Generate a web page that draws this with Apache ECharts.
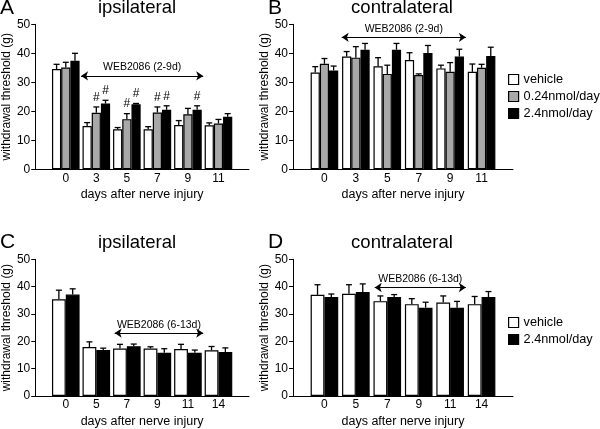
<!DOCTYPE html>
<html><head><meta charset="utf-8">
<script src="https://cdn.jsdelivr.net/npm/echarts@6/dist/echarts.min.js"></script>
<style>html,body{margin:0;padding:0;background:#fff}#c{width:600px;height:429px}</style>
</head><body><div id="c"></div>
<script>
// ---- data ----
const daysAB = ['0', '3', '5', '7', '9', '11'];
const daysCD = ['0', '5', '7', '9', '11', '14'];
const seriesNames = ['vehicle', '0.24nmol/day', '2.4nmol/day'];

// Panel A (ipsilateral, WEB2086 2-9d)
const vehA = [34.6, 14.9, 13.8, 13.8, 15.3, 15.2];
const vehAErr = [1.6, 1.2, 0.6, 0.9, 1.5, 0.8];
const lowA = [35.1, 19.5, 17.3, 19.6, 19.0, 15.8];
const lowAErr = [1.8, 2.0, 1.9, 1.9, 2.0, 1.4];
const lowAHash = [0, 1, 1, 1, 0, 0];
const highA = [37.4, 22.7, 22.4, 20.5, 20.5, 18.1];
const highAErr = [2.6, 1.1, 0.3, 1.4, 1.4, 1.1];
const highAHash = [0, 1, 1, 1, 1, 0];

// Panel B (contralateral, WEB2086 2-9d)
const vehB = [33.4, 38.9, 35.5, 37.7, 34.8, 33.6];
const vehBErr = [2.0, 1.7, 3.0, 2.5, 1.1, 2.7];
const lowB = [36.4, 38.5, 32.9, 32.5, 33.6, 35.0];
const lowBErr = [1.8, 3.8, 3.0, 0.4, 3.2, 1.2];
const highB = [34.1, 41.2, 41.2, 40.1, 38.9, 39.1];
const highBErr = [1.5, 2.2, 2.2, 2.6, 2.5, 3.0];

// Panel C (ipsilateral, WEB2086 6-13d)
const vehC = [35.4, 17.9, 17.4, 17.4, 17.2, 16.7];
const vehCErr = [3.3, 1.9, 1.5, 0.6, 1.7, 1.4];
const highC = [37.1, 16.8, 18.2, 15.8, 15.8, 16.1];
const highCErr = [2.1, 0.7, 0.8, 1.5, 1.0, 1.5];

// Panel D (contralateral, WEB2086 6-13d)
const vehD = [37.0, 37.4, 34.7, 33.6, 34.2, 33.6];
const vehDErr = [3.7, 3.3, 1.9, 2.0, 2.4, 2.8];
const highD = [36.2, 38.0, 36.2, 32.3, 32.3, 36.2];
const highDErr = [1.1, 3.0, 0.9, 2.0, 2.3, 2.0];

// treatment arrows: [start index, end index, y value]
const arrowA = [0.5, 4.5, 32.2];
const arrowB = [0.55, 4.5, 45.5];
const arrowC = [1.6, 4.5, 23.0];
const arrowD = [1.6, 4.5, 39.7];
const arrowTextAB = 'WEB2086 (2-9d)';
const arrowTextCD = 'WEB2086 (6-13d)';

// ---- styling ----
const FONT = '"Liberation Sans", Arial, Helvetica, sans-serif';
const WHITE = '#ffffff', GREY = '#a8a8a8', BLACK = '#000000';
const grids = [
  {left: 29, top: 24.3, width: 220, height: 145},
  {left: 293, top: 24.3, width: 220, height: 145},
  {left: 29, top: 259.3, width: 220, height: 144.7},
  {left: 293, top: 259.3, width: 220, height: 144.7}
];
const axisLine = {show: true, onZero: false, lineStyle: {color: '#000', width: 1}};

function xAxisFor(i, cats) {
  return {
    gridIndex: i, type: 'value', min: -1, max: 6, interval: 1,
    axisLine, axisTick: {show: false}, splitLine: {show: false},
    axisLabel: {formatter: v => (cats[v] !== undefined ? cats[v] : ''), color: '#000', fontSize: 12, fontFamily: FONT, margin: 3},
    name: 'days after nerve injury', nameLocation: 'middle', nameGap: 19,
    nameTextStyle: {color: '#000', fontSize: 12.5, fontFamily: FONT}
  };
}
function yAxisFor(i) {
  return {
    gridIndex: i, type: 'value', min: 0, max: 50, interval: 10,
    axisLine, axisTick: {show: true, length: 4, lineStyle: {color: '#000', width: 1}},
    splitLine: {show: false},
    axisLabel: {color: '#000', fontSize: 12, fontFamily: FONT, margin: 5},
    name: 'withdrawal threshold (g)', nameLocation: 'middle', nameGap: 21, nameRotate: 90,
    nameTextStyle: {color: '#000', fontSize: 12, fontFamily: FONT}
  };
}
function barSeries(panel, name, color, vals, barW) {
  return {
    type: 'bar', name, xAxisIndex: panel, yAxisIndex: panel,
    data: vals.map((v, k) => [k, v]),
    barWidth: barW, barGap: '0%',
    itemStyle: {color, borderColor: '#000', borderWidth: 1.2},
    emphasis: {disabled: true}, animation: false, z: 2
  };
}
function arrowSeries(panel, arrow, arrowText) {
  return {
    type: 'line', xAxisIndex: panel, yAxisIndex: panel, data: [], silent: true, animation: false, z: 6,
    markLine: {
      silent: true, animation: false,
      symbol: ['arrow', 'arrow'], symbolSize: 7,
      lineStyle: {color: '#000', width: 1, type: 'solid'},
      label: {show: true, position: 'middle', formatter: arrowText, color: '#000', fontSize: 10.5, fontFamily: FONT, distance: 3},
      emphasis: {disabled: true},
      data: [[{coord: [arrow[0], arrow[2]]}, {coord: [arrow[1], arrow[2]]}]]
    }
  };
}
function errSeries(panel, vals, errs, flags, idx, n, barW) {
  return {
    type: 'custom', xAxisIndex: panel, yAxisIndex: panel, silent: true, animation: false, z: 5,
    data: vals.map((v, k) => [k, v, errs[k], flags ? flags[k] : 0]),
    encode: {x: 0, y: 1},
    renderItem: (params, api) => {
      const x = api.value(0), v = api.value(1), e = api.value(2), f = api.value(3);
      const b = api.coord([x, v]), t = api.coord([x, v + e]);
      const cx = b[0] + (idx - (n - 1) / 2) * barW;
      const st = {stroke: '#000', lineWidth: 1.3};
      const children = [
        {type: 'line', shape: {x1: cx, y1: b[1], x2: cx, y2: t[1]}, style: st},
        {type: 'line', shape: {x1: cx - 3, y1: t[1], x2: cx + 3, y2: t[1]}, style: st}
      ];
      if (f) children.push({type: 'text', x: cx, y: t[1] - 9.5,
        style: {text: '#', fill: '#000', font: '12px ' + FONT, align: 'center', verticalAlign: 'middle'}});
      return {type: 'group', children};
    }
  };
}

const W3 = 9.2, W2 = 13.8;
const series = [
  barSeries(0, seriesNames[0], WHITE, vehA, W3),
  barSeries(0, seriesNames[1], GREY, lowA, W3),
  barSeries(0, seriesNames[2], BLACK, highA, W3),
  errSeries(0, vehA, vehAErr, null, 0, 3, W3),
  errSeries(0, lowA, lowAErr, lowAHash, 1, 3, W3),
  errSeries(0, highA, highAErr, highAHash, 2, 3, W3),
  arrowSeries(0, arrowA, arrowTextAB),

  barSeries(1, seriesNames[0], WHITE, vehB, W3),
  barSeries(1, seriesNames[1], GREY, lowB, W3),
  barSeries(1, seriesNames[2], BLACK, highB, W3),
  errSeries(1, vehB, vehBErr, null, 0, 3, W3),
  errSeries(1, lowB, lowBErr, null, 1, 3, W3),
  errSeries(1, highB, highBErr, null, 2, 3, W3),
  arrowSeries(1, arrowB, arrowTextAB),

  barSeries(2, seriesNames[0], WHITE, vehC, W2),
  barSeries(2, seriesNames[2], BLACK, highC, W2),
  errSeries(2, vehC, vehCErr, null, 0, 2, W2),
  errSeries(2, highC, highCErr, null, 1, 2, W2),
  arrowSeries(2, arrowC, arrowTextCD),

  barSeries(3, seriesNames[0], WHITE, vehD, W2),
  barSeries(3, seriesNames[2], BLACK, highD, W2),
  errSeries(3, vehD, vehDErr, null, 0, 2, W2),
  errSeries(3, highD, highDErr, null, 1, 2, W2),
  arrowSeries(3, arrowD, arrowTextCD)
];

function txt(text, x, y, size, align) {
  return {type: 'text', x, y, silent: true,
    style: {text, fill: '#000', font: size + 'px ' + FONT, align: align || 'left', verticalAlign: 'top'}};
}

const legendBase = {
  orient: 'vertical', icon: 'rect', itemWidth: 10, itemHeight: 10, itemGap: 4,
  itemStyle: {borderColor: '#000', borderWidth: 1.2},
  textStyle: {color: '#000', fontSize: 12.7, fontFamily: FONT},
  selectedMode: false, padding: 0
};

const option = {
  backgroundColor: '#fff',
  animation: false,
  grid: grids,
  xAxis: [xAxisFor(0, daysAB), xAxisFor(1, daysAB), xAxisFor(2, daysCD), xAxisFor(3, daysCD)],
  yAxis: [yAxisFor(0), yAxisFor(1), yAxisFor(2), yAxisFor(3)],
  legend: [
    Object.assign({}, legendBase, {left: 508, top: 73, data: seriesNames}),
    Object.assign({}, legendBase, {left: 508, top: 316, data: [seriesNames[0], seriesNames[2]]})
  ],
  graphic: [
    txt('A', 0, -2, 21), txt('B', 268, -2, 21), txt('C', 0, 232, 21), txt('D', 268, 232, 21),
    txt('ipsilateral', 137, -2, 18.5, 'center'), txt('contralateral', 402, -2, 18.5, 'center'),
    txt('ipsilateral', 137, 233, 18.5, 'center'), txt('contralateral', 402, 233, 18.5, 'center')
  ],
  series
};
const chart = echarts.init(document.getElementById('c'), null, {renderer: 'canvas'});
chart.setOption(option);
</script></body></html>
